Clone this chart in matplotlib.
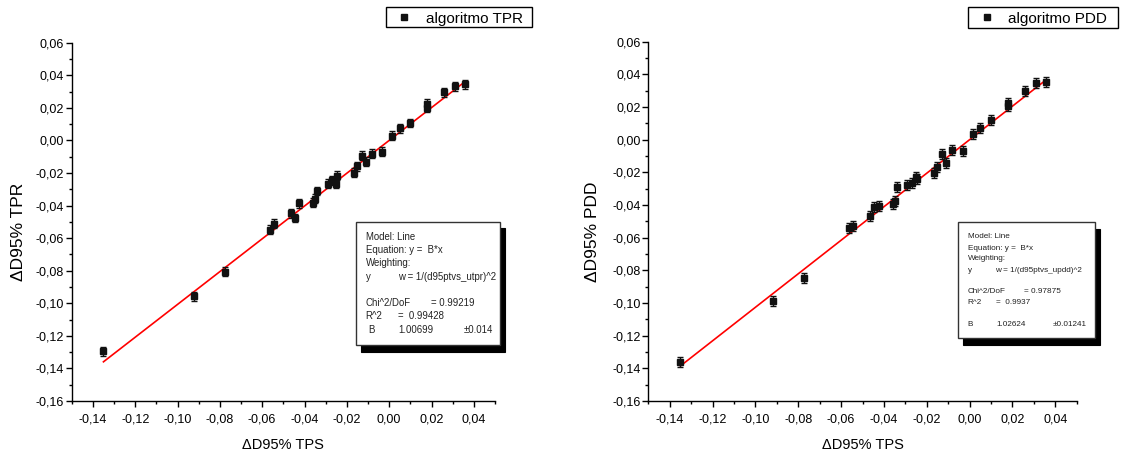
import matplotlib
matplotlib.use("Agg")
import matplotlib.pyplot as plt
from matplotlib.patches import Rectangle
from matplotlib.lines import Line2D
from matplotlib.ticker import MultipleLocator, FuncFormatter
import numpy as np

plt.rcParams['font.family'] = ['Liberation Sans', 'DejaVu Sans']

# ---- data ----
tps = [-0.135, -0.092, -0.0775, -0.0565, -0.0543, -0.0465, -0.0444, -0.0424,
       -0.0358, -0.0350, -0.0340, -0.0290, -0.0271, -0.0252, -0.0246, -0.0165,
       -0.0152, -0.0127, -0.0110, -0.0083, -0.0033, 0.0015, 0.0050, 0.0098,
       0.0178, 0.0180, 0.0260, 0.0311, 0.0357]
tpr = [-0.1295, -0.0956, -0.0806, -0.0547, -0.0512, -0.0448, -0.0476, -0.0387,
       -0.0383, -0.0358, -0.0310, -0.0265, -0.0245, -0.0265, -0.0216, -0.0199,
       -0.0159, -0.0095, -0.0130, -0.0081, -0.0069, 0.0029, 0.0074, 0.0107,
       0.0225, 0.0199, 0.0296, 0.0333, 0.0345]
pdd = [-0.1363, -0.0987, -0.0849, -0.0542, -0.0526, -0.0465, -0.0413, -0.0404,
       -0.0395, -0.0373, -0.0287, -0.0275, -0.0263, -0.0230, -0.0240, -0.0205,
       -0.0169, -0.0089, -0.0144, -0.0063, -0.0069, 0.0033, 0.0070, 0.0119,
       0.0223, 0.0206, 0.0298, 0.0345, 0.0352]
err_tpr = 0.0027
err_pdd = 0.0031
slope_tpr = 1.00699
slope_pdd = 1.02624

legend_labels = ["algoritmo TPR", "algoritmo PDD"]
ylabels = ["\u0394D95% TPR", "\u0394D95% PDD"]
xlabel = "\u0394D95% TPS"
fit_texts = [
    dict(rows=["Model: Line", "Equation: y =  B*x", "Weighting:"],
         wrow=("y", "w = 1/(d95ptvs_utpr)^2"),
         chi=("Chi^2/DoF", "= 0.99219"), r2=("R^2", "=  0.99428"),
         b=("B", "1.00699", "\u00b10.014")),
    dict(rows=["Model: Line", "Equation: y =  B*x", "Weighting:"],
         wrow=("y", "w = 1/(d95ptvs_updd)^2"),
         chi=("Chi^2/DoF", "= 0.97875"), r2=("R^2", "=  0.9937"),
         b=("B", "1.02624", "\u00b10.01241")),
]

W, H = 1121, 457
fig = plt.figure(figsize=(W / 100, H / 100), dpi=100)


def fx(px):
    return px / W


def fy(py):
    return 1 - py / H


def fmt(v, pos):
    v = round(v, 2)
    if abs(v) < 1e-9:
        v = 0.0
    return f"{v:.2f}".replace(".", ",")


axes_px = [(71.7, 42.7, 495.0, 401.0), (648.3, 41.7, 1076.7, 401.0)]
ys = [tpr, pdd]
errs = [err_tpr, err_pdd]
slopes = [slope_tpr, slope_pdd]

for i, (x0, y0, x1, y1) in enumerate(axes_px):
    ax = fig.add_axes([fx(x0), fy(y1), (x1 - x0) / W, (y1 - y0) / H])
    ax.set_xlim(-0.15, 0.05)
    ax.set_ylim(-0.16, 0.06)
    for s in ['top', 'right']:
        ax.spines[s].set_visible(False)
    for s in ['left', 'bottom']:
        ax.spines[s].set_linewidth(1.0)
    ax.xaxis.set_major_locator(MultipleLocator(0.02))
    ax.xaxis.set_minor_locator(MultipleLocator(0.01))
    ax.yaxis.set_major_locator(MultipleLocator(0.02))
    ax.yaxis.set_minor_locator(MultipleLocator(0.01))
    ax.xaxis.set_major_formatter(FuncFormatter(fmt))
    ax.yaxis.set_major_formatter(FuncFormatter(fmt))
    ax.tick_params(which='major', length=4.3, width=1.0, direction='out',
                   labelsize=9, colors='black')
    ax.tick_params(which='minor', length=2.5, width=1.0, direction='out')
    ax.tick_params(axis='y', which='major', pad=1.2)
    ax.tick_params(axis='x', which='major', pad=4.5)

    xs = np.array(tps)
    xfit = np.array([min(tps), max(tps)])
    ax.plot(xfit, slopes[i] * xfit, color='#ff0000', lw=1.2, zorder=2)
    ax.errorbar(xs, ys[i], yerr=errs[i], fmt='s', color='#111111',
                markersize=3.8, ecolor='#111111', elinewidth=1.0,
                capsize=2.4, capthick=1.0, zorder=3)

    # axis labels
    cx = (x0 + x1) / 2
    fig.text(fx(cx), fy(445), xlabel, ha='center', va='center', fontsize=10.5)
    ylx = 18.8 if i == 0 else 592.8
    fig.text(fx(ylx), fy(231.7), ylabels[i], ha='center', va='center',
             rotation=90, fontsize=12.5)

# ---- legends (drawn in figure pixels) ----
leg_boxes = [(385.7, 6.7, 532.0, 27.3, 404.0, 425.7),
             (968.0, 6.7, 1117.7, 28.0, 986.7, 1007.7)]
for i, (bx0, by0, bx1, by1, mx, tx) in enumerate(leg_boxes):
    fig.add_artist(Rectangle((fx(bx0), fy(by1)), (bx1 - bx0) / W, (by1 - by0) / H,
                             transform=fig.transFigure, facecolor='white',
                             edgecolor='black', lw=1.0))
    fig.add_artist(Line2D([fx(mx)], [fy(17)], marker='s', markersize=3.8,
                          color='#111111', transform=fig.transFigure))
    fig.text(fx(tx), fy(23.3), legend_labels[i], ha='left', va='baseline',
             fontsize=11)

# ---- fit parameter boxes ----
boxes = [
    dict(box=(356.3, 221.7, 500.0, 345.0), fs=6.9, xl=365.7,
         rows_y=[237.3, 250.0, 263.3, 277.3, 302.7, 316.0, 330.0],
         wx=397.7, chix=430.7, r2x=398.3, bx=368.3, bvx=398.3, bex=463.3),
    dict(box=(958.3, 222.3, 1094.7, 338.3), fs=5.9, xl=967.7,
         rows_y=[236.7, 248.0, 259.0, 270.0, 291.7, 302.3, 324.3],
         wx=995.0, chix=1024.3, r2x=996.0, bx=967.7, bvx=996.0, bex=1052.7),
]
for i, b in enumerate(boxes):
    x0, y0, x1, y1 = b['box']
    # shadow
    fig.add_artist(Rectangle((fx(x0 + 5), fy(y1 + 6.5)), (x1 - x0) / W, (y1 - y0) / H,
                             transform=fig.transFigure, facecolor='black',
                             edgecolor='black', lw=0.8, zorder=5))
    fig.add_artist(Rectangle((fx(x0), fy(y1)), (x1 - x0) / W, (y1 - y0) / H,
                             transform=fig.transFigure, facecolor='white',
                             edgecolor='#333333', lw=1.0, zorder=6))
    t = fit_texts[i]
    ry = b['rows_y']
    kw = dict(fontsize=b['fs'], va='center', ha='left', zorder=7, color='#222222')
    for j, row in enumerate(t['rows']):
        fig.text(fx(b['xl']), fy(ry[j]), row, **kw)
    fig.text(fx(b['xl']), fy(ry[3]), t['wrow'][0], **kw)
    fig.text(fx(b['wx']), fy(ry[3]), t['wrow'][1], **kw)
    fig.text(fx(b['xl']), fy(ry[4]), t['chi'][0], **kw)
    fig.text(fx(b['chix']), fy(ry[4]), t['chi'][1], **kw)
    fig.text(fx(b['xl']), fy(ry[5]), t['r2'][0], **kw)
    fig.text(fx(b['r2x']), fy(ry[5]), t['r2'][1], **kw)
    fig.text(fx(b['bx']), fy(ry[6]), t['b'][0], **kw)
    fig.text(fx(b['bvx']), fy(ry[6]), t['b'][1], **kw)
    fig.text(fx(b['bex']), fy(ry[6]), t['b'][2], **kw)

fig.savefig("out.png", dpi=100)
